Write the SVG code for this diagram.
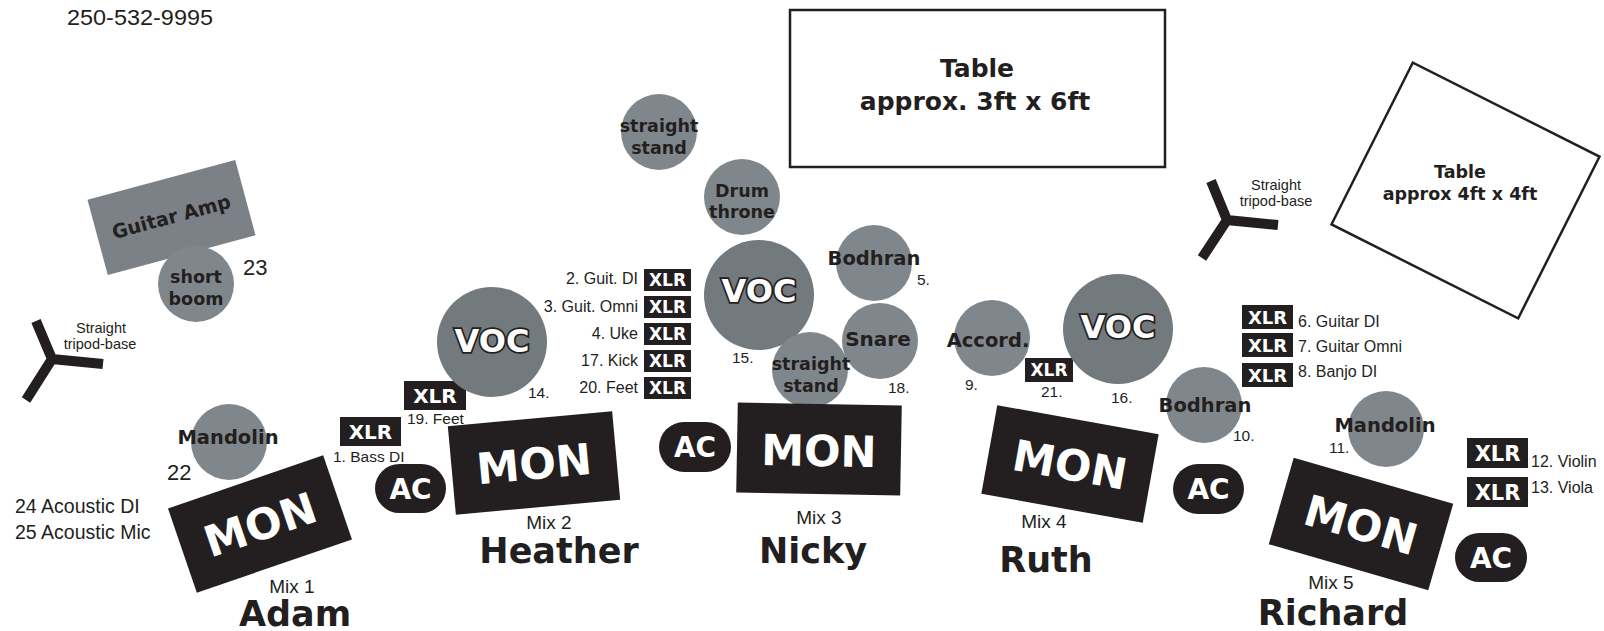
<svg xmlns="http://www.w3.org/2000/svg" width="1604" height="631" viewBox="0 0 1604 631">
<style>
.blk{fill:#231f20}
.gry{fill:#80878c}
.voc{fill:#737a7e}
.tbl{fill:#fff;stroke:#231f20;stroke-width:2.5}
.tri{fill:none;stroke:#231f20;stroke-width:10;stroke-linecap:butt}
.lbl{font-family:"DejaVu Sans",sans-serif;font-weight:bold;fill:#231f20;text-anchor:middle}
.wht{font-family:"DejaVu Sans",sans-serif;font-weight:bold;fill:#fff;text-anchor:middle}
.voct{font-family:"DejaVu Sans",sans-serif;font-weight:bold;font-size:32px;fill:#fff;stroke:#231f20;stroke-width:3.5;paint-order:stroke;text-anchor:middle}
.sm{font-family:"Liberation Sans",Arial,sans-serif;fill:#231f20}
.mid{text-anchor:middle}
.end{text-anchor:end}
.mon{font-size:43px}
.ac{font-size:28px}
.name{font-size:35px}
.mix{font-size:19px}
.s16{font-size:16px}
.s15{font-size:15.5px}
.c17{font-size:17.5px}
.c19{font-size:19.5px}
</style>
<rect width="1604" height="631" fill="#fff"/>

<g id="connectors"></g>

<g id="phone"><text class="sm" x="67" y="25" font-size="22" textLength="146" lengthAdjust="spacingAndGlyphs">250-532-9995</text></g>

<g id="table1">
<rect class="tbl" x="790" y="10" width="375" height="157"/>
<text class="lbl" x="977" y="77" font-size="25">Table</text>
<text class="lbl" x="975" y="110" font-size="25">approx. 3ft x 6ft</text>
</g>

<g id="table2">
<rect class="tbl" transform="translate(1465.5,190.5) rotate(26.7)" x="-104.5" y="-90.5" width="209" height="181"/>
<text class="lbl" x="1460" y="178" font-size="17.5">Table</text>
<text class="lbl" x="1460" y="200" font-size="17.5">approx 4ft x 4ft</text>
</g>

<g id="tripod-right">
<path class="tri" d="M1211,181 L1227,220 L1278,225 M1227,220 L1202,258"/>
<text class="sm mid" x="1276" y="190" font-size="14.5">Straight</text>
<text class="sm mid" x="1276" y="206" font-size="14.5">tripod-base</text>
</g>

<g id="tripod-left">
<path class="tri" d="M36,321 L52,359 L103,364 M52,359 L26,400"/>
<text class="sm mid" x="101" y="333" font-size="14.5">Straight</text>
<text class="sm mid" x="100" y="349" font-size="14.5">tripod-base</text>
</g>

<g id="guitar-amp" transform="translate(171.5,217.5) rotate(-15.1)">
<rect x="-76.5" y="-39" width="153" height="78" fill="#7b8186"/>
<text class="lbl" x="0" y="6" font-size="19.5" textLength="122" lengthAdjust="spacingAndGlyphs">Guitar Amp</text>
</g>

<g id="short-boom">
<circle class="gry" cx="196" cy="284" r="38"/>
<text class="lbl c17" x="196" y="283">short</text>
<text class="lbl c17" x="196" y="305">boom</text>
<text class="sm" x="243" y="275" font-size="22">23</text>
</g>

<g id="mandolin-left">
<circle class="gry" cx="229" cy="442" r="38"/>
<text class="lbl c19" x="228" y="444">Mandolin</text>
<text class="sm" x="167" y="480" font-size="22">22</text>
</g>

<g id="acoustic-notes">
<text class="sm" x="15" y="513" font-size="19.5">24 Acoustic DI</text>
<text class="sm" x="15" y="539" font-size="19.5">25 Acoustic Mic</text>
</g>

<g id="mon1">
<g transform="translate(260,524) rotate(-18.9)">
<rect class="blk" x="-82" y="-44.5" width="164" height="89"/>
<text class="wht mon" x="0" y="16">MON</text>
</g>
<text class="sm mid mix" x="292" y="593">Mix 1</text>
<text class="lbl name" x="295" y="626">Adam</text>
</g>

<g id="xlr1">
<rect class="blk" x="340" y="417" width="61" height="29"/>
<text class="wht" x="370.5" y="439" font-size="20">XLR</text>
<text class="sm s15" x="333" y="462">1. Bass DI</text>
</g>

<g id="xlr19">
<rect class="blk" x="404" y="381" width="62" height="29"/>
<text class="wht" x="435" y="403" font-size="20">XLR</text>
<text class="sm s15" x="407" y="424">19. Feet</text>
</g>

<g id="ac1">
<rect class="blk" x="375" y="464" width="71" height="49" rx="24.5"/>
<text class="wht ac" x="410.5" y="499">AC</text>
</g>

<g id="voc14">
<circle class="voc" cx="492" cy="342" r="55"/>
<text class="voct" x="492" y="352">VOC</text>
<text class="sm s15" x="528" y="398">14.</text>
</g>

<g id="mon2">
<g transform="translate(534,463) rotate(-5.2)">
<rect class="blk" x="-82.5" y="-44.5" width="165" height="89"/>
<text class="wht mon" x="0" y="16">MON</text>
</g>
<text class="sm mid mix" x="549" y="529">Mix 2</text>
<text class="lbl name" x="559" y="563">Heather</text>
</g>

<g id="xlr-list-mid">
<rect class="blk" x="644" y="269" width="47" height="22"/>
<rect class="blk" x="644" y="296" width="47" height="22"/>
<rect class="blk" x="644" y="323" width="47" height="22"/>
<rect class="blk" x="644" y="350" width="47" height="22"/>
<rect class="blk" x="644" y="377" width="47" height="22"/>
<text class="wht" x="667.5" y="286" font-size="17">XLR</text>
<text class="wht" x="667.5" y="313" font-size="17">XLR</text>
<text class="wht" x="667.5" y="340" font-size="17">XLR</text>
<text class="wht" x="667.5" y="367" font-size="17">XLR</text>
<text class="wht" x="667.5" y="394" font-size="17">XLR</text>
<text class="sm end s16" x="638" y="284">2. Guit. DI</text>
<text class="sm end s16" x="638" y="312">3. Guit. Omni</text>
<text class="sm end s16" x="638" y="339">4. Uke</text>
<text class="sm end s16" x="638" y="366">17. Kick</text>
<text class="sm end s16" x="638" y="393">20. Feet</text>
</g>

<g id="straight-stand-top">
<circle class="gry" cx="659" cy="132" r="38"/>
<text class="lbl c17" x="659" y="132">straight</text>
<text class="lbl c17" x="659" y="154">stand</text>
</g>

<g id="drum-throne">
<circle class="gry" cx="742" cy="197" r="38"/>
<text class="lbl c17" x="742" y="197">Drum</text>
<text class="lbl c17" x="742" y="218">throne</text>
</g>

<g id="voc15">
<circle class="voc" cx="759" cy="295" r="55"/>
<text class="voct" x="759" y="302">VOC</text>
<text class="sm s15" x="732" y="363">15.</text>
</g>

<g id="bodhran5">
<circle class="gry" cx="874" cy="263" r="38"/>
<text class="lbl c19" x="874" y="265">Bodhran</text>
<text class="sm s15" x="917" y="285">5.</text>
</g>

<g id="snare">
<circle class="gry" cx="880" cy="341" r="38"/>
<text class="lbl" x="878" y="346" font-size="20">Snare</text>
<text class="sm s15" x="888" y="393">18.</text>
</g>

<g id="straight-stand-bottom">
<circle class="gry" cx="810" cy="370" r="38"/>
<text class="lbl c17" x="811" y="370">straight</text>
<text class="lbl c17" x="811" y="392">stand</text>
</g>

<g id="ac3">
<rect class="blk" x="659" y="422" width="72" height="50" rx="25"/>
<text class="wht ac" x="695" y="457">AC</text>
</g>

<g id="mon3">
<g transform="translate(819,449) rotate(1)">
<rect class="blk" x="-82" y="-45" width="164" height="90"/>
<text class="wht mon" x="0" y="17">MON</text>
</g>
<text class="sm mid mix" x="819" y="524">Mix 3</text>
<text class="lbl name" x="813" y="563">Nicky</text>
</g>

<g id="accordion">
<circle class="gry" cx="992" cy="338" r="38"/>
<text class="lbl c19" x="988" y="347">Accord.</text>
<text class="sm s15" x="965" y="390">9.</text>
</g>

<g id="xlr21">
<rect class="blk" x="1025" y="358" width="48" height="24"/>
<text class="wht" x="1049" y="376" font-size="17">XLR</text>
<text class="sm s15" x="1041" y="397">21.</text>
</g>

<g id="voc16">
<circle class="voc" cx="1118" cy="329" r="55"/>
<text class="voct" x="1118" y="338">VOC</text>
<text class="sm s15" x="1111" y="403">16.</text>
</g>

<g id="bodhran10">
<circle class="gry" cx="1204" cy="405" r="38"/>
<text class="lbl c19" x="1205" y="412">Bodhran</text>
<text class="sm s15" x="1233" y="441">10.</text>
</g>

<g id="mon4">
<g transform="translate(1070,464) rotate(10.2)">
<rect class="blk" x="-82" y="-45" width="164" height="90"/>
<text class="wht mon" x="0" y="16">MON</text>
</g>
<text class="sm mid mix" x="1044" y="528">Mix 4</text>
<text class="lbl name" x="1046" y="572">Ruth</text>
</g>

<g id="ac4">
<rect class="blk" x="1173" y="464" width="71" height="50" rx="25"/>
<text class="wht ac" x="1208.5" y="499">AC</text>
</g>

<g id="xlr-list-right">
<rect class="blk" x="1242" y="305" width="51" height="24"/>
<rect class="blk" x="1242" y="333" width="51" height="24"/>
<rect class="blk" x="1242" y="363" width="51" height="24"/>
<text class="wht" x="1267.5" y="323.5" font-size="18">XLR</text>
<text class="wht" x="1267.5" y="351.5" font-size="18">XLR</text>
<text class="wht" x="1267.5" y="381.5" font-size="18">XLR</text>
<text class="sm s16" x="1298" y="327">6. Guitar DI</text>
<text class="sm s16" x="1298" y="352">7. Guitar Omni</text>
<text class="sm s16" x="1298" y="377">8. Banjo DI</text>
</g>

<g id="mandolin-right">
<circle class="gry" cx="1386" cy="429" r="38"/>
<text class="lbl c19" x="1385" y="432">Mandolin</text>
<text class="sm s15" x="1329" y="453">11.</text>
</g>

<g id="xlr-violin-viola">
<rect class="blk" x="1467" y="438" width="61" height="30"/>
<rect class="blk" x="1467" y="477" width="61" height="30"/>
<text class="wht" x="1497.5" y="460.5" font-size="21">XLR</text>
<text class="wht" x="1497.5" y="499.5" font-size="21">XLR</text>
<text class="sm s16" x="1531" y="467">12. Violin</text>
<text class="sm s16" x="1531" y="493">13. Viola</text>
</g>

<g id="ac5">
<rect class="blk" x="1455" y="533" width="72" height="49" rx="24.5"/>
<text class="wht ac" x="1491" y="568">AC</text>
</g>

<g id="mon5">
<g transform="translate(1361,524) rotate(16.1)">
<rect class="blk" x="-83" y="-45" width="166" height="90"/>
<text class="wht mon" x="0" y="16">MON</text>
</g>
<text class="sm mid mix" x="1331" y="589">Mix 5</text>
<text class="lbl name" x="1333" y="625">Richard</text>
</g>
</svg>
